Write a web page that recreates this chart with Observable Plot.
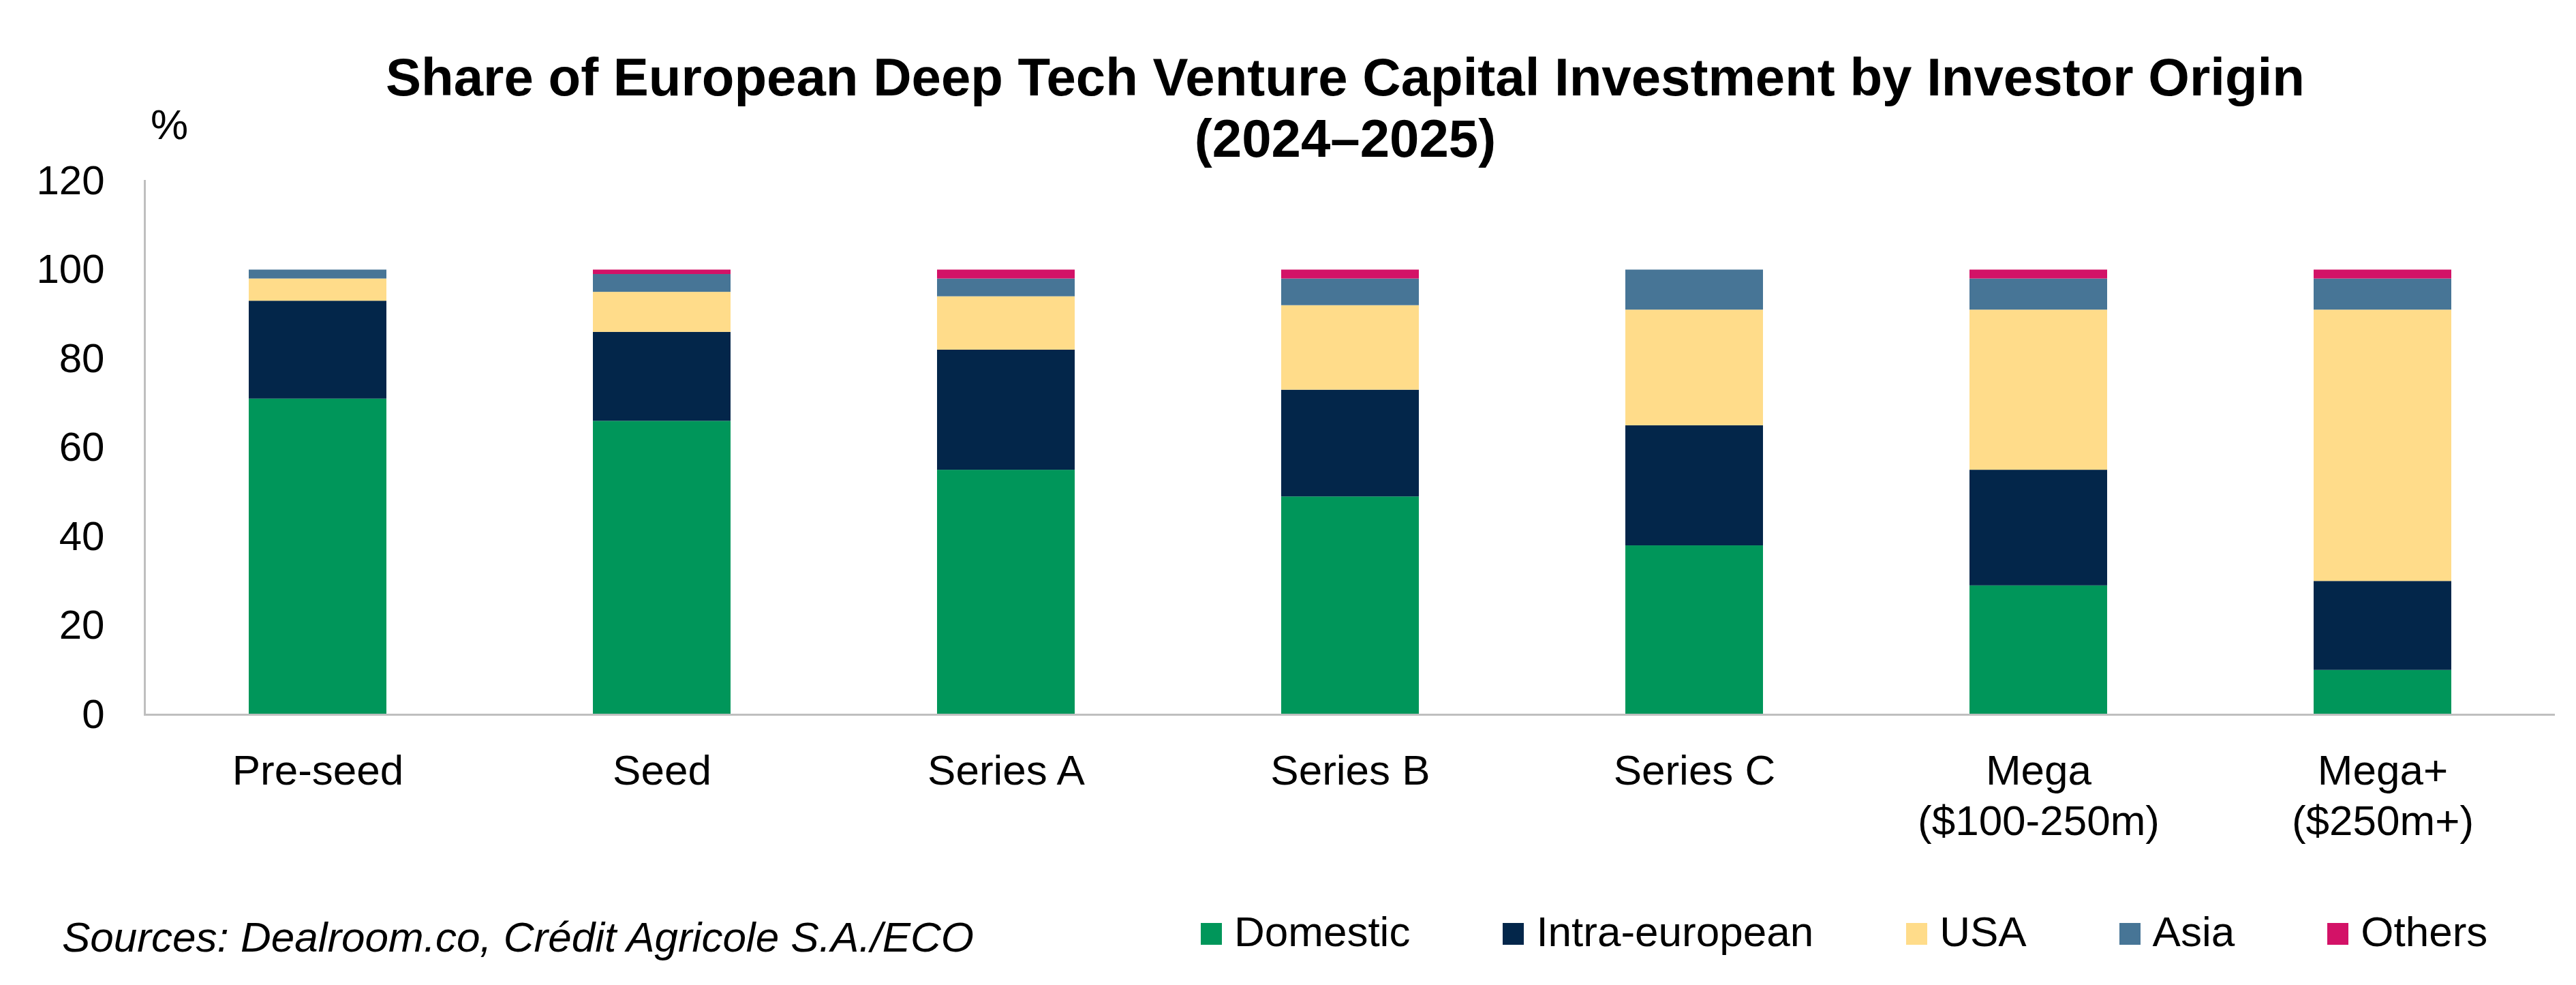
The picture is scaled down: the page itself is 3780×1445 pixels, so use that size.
<!DOCTYPE html>
<html>
<head>
<meta charset="utf-8">
<script src="https://cdn.jsdelivr.net/npm/d3@7"></script>
<script src="https://cdn.jsdelivr.net/npm/@observablehq/plot@0.6"></script>
<style>
  html, body { margin: 0; padding: 0; background: #ffffff; }
  body { width: 3780px; height: 1445px; overflow: hidden; font-family: "Liberation Sans", Arial, sans-serif; color: #000; }
  #head { position: relative; height: 215px; }
  #title { position: absolute; left: 168px; right: 0; top: 68px; text-align: center; font-weight: bold; font-size: 78px; line-height: 90px; }
  #unit { position: absolute; left: 221px; top: 152px; font-size: 62px; line-height: 62px; }
  #foot { position: relative; height: 195px; }
  #source { position: absolute; left: 91px; top: 94px; font-size: 62px; line-height: 62px; font-style: italic; white-space: nowrap; }
  #legend { position: absolute; left: 1762px; top: 86px; display: flex; gap: 136px; font-size: 62px; line-height: 62px; white-space: nowrap; }
  .item { display: flex; align-items: flex-start; }
  .sw { width: 31px; height: 32px; margin-top: 18px; margin-right: 18px; }
</style>
</head>
<body>
<div id="head">
  <div id="title">Share of European Deep Tech Venture Capital Investment by Investor Origin<br>(2024–2025)</div>
  <div id="unit">%</div>
</div>
<div id="chart"></div>
<div id="foot">
  <div id="source">Sources: Dealroom.co, Crédit Agricole S.A./ECO</div>
  <div id="legend"></div>
</div>
<script>
// ---- Data ----
const categories = ["Pre-seed", "Seed", "Series A", "Series B", "Series C", "Mega\n($100-250m)", "Mega+\n($250m+)"];
const series = ["Domestic", "Intra-european", "USA", "Asia", "Others"];
const colors = ["#00965A", "#03264A", "#FFDC8A", "#477596", "#D31267"];
const domestic      = [71, 66, 55, 49, 38, 29, 10];
const intraEuropean = [22, 20, 27, 24, 27, 26, 20];
const usa           = [5, 9, 12, 19, 26, 36, 61];
const asia          = [2, 4, 4, 6, 9, 7, 7];
const others        = [0, 1, 2, 2, 0, 2, 2];
const yTicks = [0, 20, 40, 60, 80, 100, 120];

const seriesValues = [domestic, intraEuropean, usa, asia, others];
const rows = categories.flatMap((c, i) =>
  series.map((s, j) => ({category: c, origin: s, value: seriesValues[j][i]}))
);

const chart = Plot.plot({
  width: 3780,
  height: 1035,
  marginLeft: 212,
  marginRight: 31,
  marginTop: 50,
  marginBottom: 202,
  style: {fontFamily: "'Liberation Sans', Arial, sans-serif", fontSize: "60px", color: "#000", background: "transparent"},
  x: {type: "band", domain: categories, paddingInner: 0.6, paddingOuter: 0.3},
  y: {domain: [0, 120]},
  color: {domain: series, range: colors},
  marks: [
    Plot.barY(rows, {x: "category", y: "value", fill: "origin", order: series}),
    Plot.frame({anchor: "left", stroke: "#BFBFBF", strokeWidth: 3}),
    Plot.ruleY([0], {stroke: "#BFBFBF", strokeWidth: 3}),
    Plot.axisY({ticks: yTicks, tickSize: 0, tickPadding: 59, fontSize: 60, label: null}),
    Plot.axisX({tickSize: 0, tickPadding: 50, fontSize: 62, lineHeight: 1.194, label: null})
  ]
});
document.getElementById("chart").appendChild(chart);

// ---- Legend ----
const legend = document.getElementById("legend");
series.forEach((s, j) => {
  const item = document.createElement("div");
  item.className = "item";
  const sw = document.createElement("div");
  sw.className = "sw";
  sw.style.background = colors[j];
  const t = document.createElement("span");
  t.textContent = s;
  item.appendChild(sw);
  item.appendChild(t);
  legend.appendChild(item);
});
</script>
</body>
</html>
